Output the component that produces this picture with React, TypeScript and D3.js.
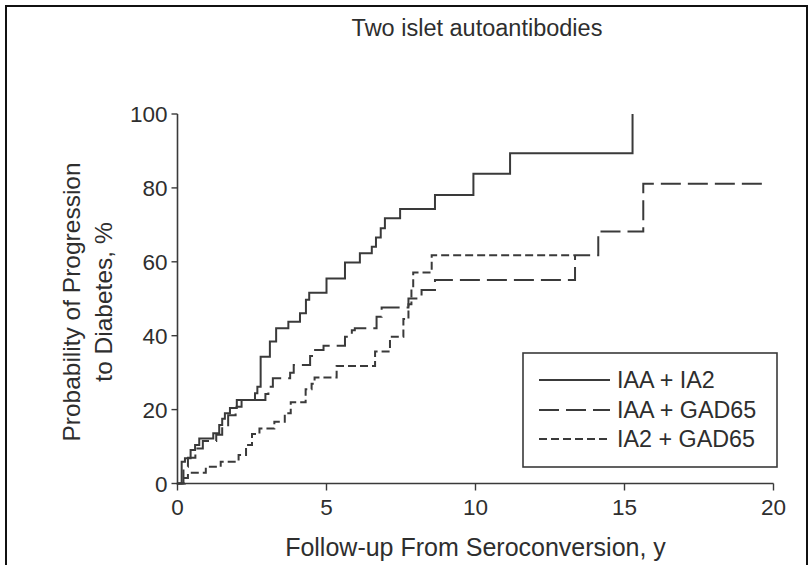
import React from "react";
import * as d3 from "d3";

const title = "Two islet autoantibodies";
const xLabel = "Follow-up From Seroconversion, y";
const yLabelLines = ["Probability of Progression", "to Diabetes, %"];
const xTicks = [0, 5, 10, 15, 20];
const yTicks = [0, 20, 40, 60, 80, 100];
const seriesNames = ["IAA + IA2", "IAA + GAD65", "IA2 + GAD65"];

// [years, percent] step points (step-after)
const iaaIa2: [number, number][] = [
  [0, 0], [0.14, 5.9], [0.25, 6.8], [0.44, 9.1], [0.59, 10.4], [0.73, 12.2],
  [1.2, 13.6], [1.4, 15.8], [1.5, 17.5], [1.59, 19.0], [1.76, 20.4], [1.99, 22.6],
  [2.6, 24.4], [2.68, 26.2], [2.79, 34.3], [3.1, 38.4], [3.31, 42.0], [3.72, 43.8],
  [4.11, 46.1], [4.31, 49.7], [4.42, 51.6], [5.0, 55.5], [5.62, 59.8], [6.12, 62.3],
  [6.52, 64.1], [6.66, 66.6], [6.82, 69.1], [6.96, 71.8], [7.47, 74.3], [8.64, 78.1],
  [9.93, 83.8], [11.16, 89.4], [15.27, 100],
];
const iaaGad65: [number, number][] = [
  [0, 0], [0.2, 4.5], [0.35, 7.0], [0.6, 9.5], [0.85, 11.5], [1.3, 13.2],
  [1.5, 15.5], [1.7, 18.5], [1.95, 20.8], [2.15, 22.6], [2.95, 24.2], [3.05, 26.2],
  [3.2, 28.5], [3.78, 30.0], [3.9, 32.1], [4.45, 34.5], [4.55, 36.1], [4.9, 37.3],
  [5.62, 39.7], [5.85, 41.5], [5.95, 42.0], [6.68, 45.1], [6.85, 47.6], [7.75, 50.1],
  [8.19, 52.4], [8.64, 55.1], [13.34, 61.8], [14.12, 68.2], [15.63, 81.1], [19.7, 81.1],
];
const ia2Gad65: [number, number][] = [
  [0, 0], [0.25, 1.5], [0.35, 2.9], [0.95, 4.5], [1.45, 5.9], [2.05, 7.7],
  [2.3, 10.4], [2.5, 13.4], [2.75, 14.9], [3.25, 16.7], [3.6, 19.0], [3.8, 22.0],
  [4.3, 25.5], [4.5, 27.0], [4.6, 28.7], [5.34, 31.8], [6.63, 35.7], [7.13, 39.7],
  [7.58, 44.5], [7.75, 48.5], [7.85, 53.0], [7.91, 57.1], [8.53, 61.8], [13.3, 61.8],
];

const seriesData = [iaaIa2, iaaGad65, ia2Gad65];
const dashes = ["none", "20,7", "8,4"];

const FONT = "'Liberation Sans', Arial, Helvetica, sans-serif";
const INK = "#3a3a3a";
const TXT = "#2e2e2e";

export default function App() {
  const x = d3.scaleLinear().domain([0, 20]).range([177.5, 773.5]);
  const y = d3.scaleLinear().domain([0, 100]).range([483.5, 114]);
  const line = d3
    .line<[number, number]>()
    .x((d) => x(d[0]))
    .y((d) => y(d[1]))
    .curve(d3.curveStepAfter);

  const legendX0 = 523;
  const legendY0 = 353;
  const rowYs = [380, 410, 439];

  return (
    <svg
      width={811}
      height={565}
      style={{ position: "fixed", left: 0, top: 0, background: "#fff" }}
      fontFamily={FONT}
    >
      <rect x={0} y={0} width={811} height={565} fill="#fff" />
      <rect x={6} y={6} width={801} height={580} fill="none" stroke="#111" strokeWidth={2} />

      <text x={477} y={36} textAnchor="middle" fontSize={23.5} fill={TXT}>
        {title}
      </text>

      {/* y axis */}
      <line x1={x(0)} x2={x(0)} y1={y(0) + 1} y2={y(100)} stroke={INK} strokeWidth={1.6} />
      {yTicks.map((t) => (
        <g key={"y" + t}>
          <line x1={x(0) - 6} x2={x(0)} y1={y(t)} y2={y(t)} stroke={INK} strokeWidth={1.4} />
          <text x={x(0) - 10} y={y(t) + 8} textAnchor="end" fontSize={22.5} fill={TXT}>
            {t}
          </text>
        </g>
      ))}

      {/* x axis */}
      <line x1={x(0) - 1} x2={x(20)} y1={y(0)} y2={y(0)} stroke={INK} strokeWidth={1.6} />
      {xTicks.map((t) => (
        <g key={"x" + t}>
          <line x1={x(t)} x2={x(t)} y1={y(0)} y2={y(0) + 7} stroke={INK} strokeWidth={1.4} />
          <text x={x(t)} y={515} textAnchor="middle" fontSize={22.5} fill={TXT}>
            {t}
          </text>
        </g>
      ))}

      <text x={(x(0) + x(20)) / 2} y={556} textAnchor="middle" fontSize={25} fill={TXT}>
        {xLabel}
      </text>

      {yLabelLines.map((s, i) => (
        <text
          key={s}
          transform={`translate(${i === 0 ? 80 : 112},302) rotate(-90)`}
          textAnchor="middle"
          fontSize={24.5}
          fill={TXT}
        >
          {s}
        </text>
      ))}

      {/* curves */}
      {seriesData.map((d, i) => (
        <path
          key={i}
          d={line(d) || ""}
          fill="none"
          stroke={INK}
          strokeWidth={2}
          strokeDasharray={dashes[i]}
        />
      ))}

      {/* legend */}
      <rect
        x={legendX0}
        y={legendY0}
        width={254}
        height={114}
        fill="#fff"
        stroke={INK}
        strokeWidth={1.6}
      />
      {seriesNames.map((n, i) => (
        <g key={n}>
          <line
            x1={539}
            x2={610}
            y1={rowYs[i]}
            y2={rowYs[i]}
            stroke={INK}
            strokeWidth={2}
            strokeDasharray={dashes[i]}
          />
          <text x={617} y={rowYs[i] + 8} fontSize={23.3} fill={TXT}>
            {n}
          </text>
        </g>
      ))}
    </svg>
  );
}
